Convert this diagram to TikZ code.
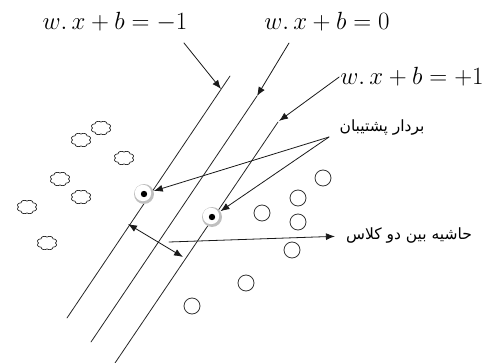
\documentclass[tikz,border=0pt]{standalone}
\usepackage{fontspec}
\usetikzlibrary{arrows.meta, calc}
\newfontfamily\arabicfont[Script=Arabic]{DejaVu Sans}
\TeXXeTstate=1

\tikzset{
  eqlabel/.style={inner sep=1pt, font=\fontsize{26}{30}\selectfont},
  falabel/.style={inner sep=1pt, font=\arabicfont\fontsize{15.5}{18}\selectfont},
  sepline/.style={line width=0.8pt, black!85},
  pointer/.style={line width=0.8pt, black!90, -{Latex[length=9pt, width=7pt]}},
  negpt/.pic={\draw[line width=0.7pt, black!85] plot[domain=0:360, samples=97]
    ({10*(0.84+0.16*abs(sin(4*\x)))*cos(\x)}, {7*(0.84+0.16*abs(sin(4*\x)))*sin(\x)}) -- cycle;},
  pospt/.style={circle, draw=black!80, line width=0.8pt, minimum size=16pt, inner sep=0pt},
  svpt/.style={circle, fill=black!25, minimum size=20pt, inner sep=0pt},
}

\begin{document}
\begin{tikzpicture}[x=1pt, y=-1pt, line join=round, line cap=round]
\useasboundingbox (0,0) rectangle (494,363);

% Ends of the three parallel lines
\coordinate (t1) at (230,76);
\coordinate (b1) at (67,318);
\coordinate (t2) at (257,96);
\coordinate (b2) at (91,342);
\coordinate (t3) at (278,122);
\coordinate (b3) at (115,363);

% Separating line and the two margin lines
\draw[sepline] (t1) -- (b1);
\draw[sepline] (t2) -- (b2);
\draw[sepline] (t3) -- (b3);

% Class of stars, left of the margin
\pic (n1) at (101,128) {negpt};
\pic (n2) at (81,140) {negpt};
\pic (n3) at (124,158) {negpt};
\pic (n4) at (60,179) {negpt};
\pic (n5) at (81,197) {negpt};
\pic (n6) at (27,207) {negpt};
\pic (n7) at (47,243) {negpt};

% Class of circles, right of the margin
\node[pospt] (p1) at (323,178) {};
\node[pospt] (p2) at (298,198) {};
\node[pospt] (p3) at (262,213) {};
\node[pospt] (p4) at (298,222) {};
\node[pospt] (p5) at (292,250) {};
\node[pospt] (p6) at (246,283) {};
\node[pospt] (p7) at (192,306) {};

% Support vectors on the margin lines
\node[svpt] (sv1) at (144,194) {};
\node[svpt] (sv2) at (212,217) {};
\fill[white] ($(sv1)+(-1,-1)$) circle (8.2);
\fill[white] ($(sv2)+(-1,-1)$) circle (8.2);
\fill[black] (sv1) circle (3.2);
\fill[black] (sv2) circle (3.2);

% Equations of the lines
\node[eqlabel] (lbl1) at (115,22) {$w.\,x+b=-1$};
\node[eqlabel] (lbl2) at (327,22) {$w.\,x+b=0$};
\node[eqlabel] (lbl3) at (412,77) {$w.\,x+b=+1$};
\coordinate (a1) at (184,43);
\coordinate (a2) at (289,43);
\coordinate (h1) at (221,89);
\draw[pointer] (a1) -- (h1);
\draw[pointer] (a2) -- (t2);
\draw[pointer] (lbl3.west) -- ($(t3)+(1,-1)$);

% Support vector label
\node[falabel] (svtext) at (382,128) {\beginR بردار پشتیبان\endR};
\coordinate (svtail) at (329,137);
\draw[pointer] (svtail) -- (sv1);
\draw[pointer] (svtail) -- (sv2);

% Width of the margin
\coordinate (m1) at (128,224);
\coordinate (m2) at (183,257);
\draw[line width=0.8pt, black!90, {Latex[length=9pt, width=7pt]}-{Latex[length=9pt, width=7pt]}] (m1) -- (m2);
\node[falabel] (margintext) at (409,236) {\beginR حاشیه بین دو کلاس\endR};
\coordinate (mtail) at (169,242);
\draw[pointer, shorten >=10pt] (mtail) -- (margintext.west);
\end{tikzpicture}
\end{document}
